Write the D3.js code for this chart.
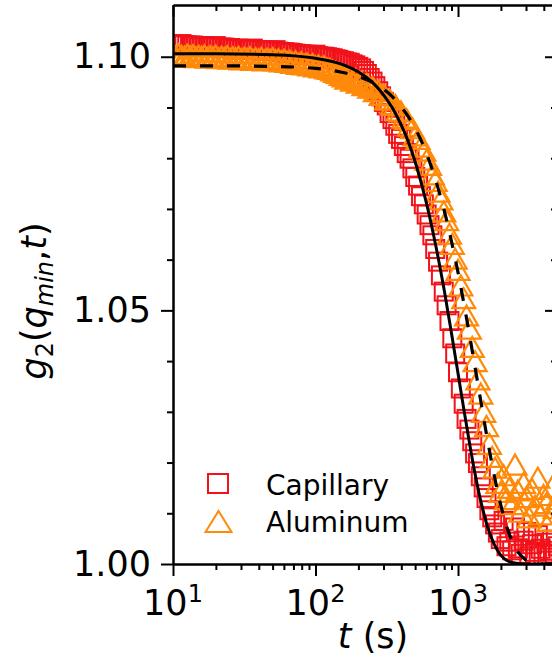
<!DOCTYPE html>
<html>
<head>
<meta charset="utf-8">
<script src="https://cdn.jsdelivr.net/npm/d3@7"></script>
<style>
body { margin: 0; background: #fff; }
text { font-family: "DejaVu Sans", Verdana, sans-serif; fill: #000; }
</style>
</head>
<body>
<div id="chart"></div>
<script>
// delay times (s), shared by both samples
var delayTimes = [
  10.00, 10.47, 10.96, 11.48, 12.02, 12.59, 13.18, 13.80, 14.45, 15.14,
  15.85, 16.60, 17.38, 18.20, 19.05, 19.95, 20.89, 21.88, 22.91, 23.99,
  25.12, 26.30, 27.54, 28.84, 30.20, 31.62, 33.11, 34.67, 36.31, 38.02,
  39.81, 41.69, 43.65, 45.71, 47.86, 50.12, 52.48, 54.95, 57.54, 60.26,
  63.10, 66.07, 69.18, 72.44, 75.86, 79.43, 83.18, 87.10, 91.20, 95.50,
  100.0, 104.7, 109.6, 114.8, 120.2, 125.9, 131.8, 138.0, 144.5, 151.4,
  158.5, 166.0, 173.8, 182.0, 190.5, 199.5, 208.9, 218.8, 229.1, 239.9,
  251.2, 263.0, 275.4, 288.4, 302.0, 316.2, 331.1, 346.7, 363.1, 380.2,
  398.1, 416.9, 436.5, 457.1, 478.6, 501.2, 524.8, 549.5, 575.4, 602.6,
  631.0, 660.7, 691.8, 724.4, 758.6, 794.3, 831.8, 871.0, 912.0, 955.0,
  1000, 1047, 1096, 1148, 1202, 1259, 1318, 1380, 1445, 1514,
  1585, 1660, 1738, 1820, 1905, 1995, 2089, 2188, 2291, 2399,
  2512, 2630, 2754, 2884, 3020, 3162, 3311, 3467, 3631, 3802,
  3981, 4169, 4365, 4571, 4786, 5012
];

// g2 for the capillary sample
var capillary = [
  1.1024, 1.1024, 1.1023, 1.1025, 1.1023, 1.1022, 1.1022, 1.1022, 1.1021, 1.1019,
  1.1021, 1.1020, 1.1020, 1.1020, 1.1019, 1.1021, 1.1018, 1.1018, 1.1018, 1.1017,
  1.1017, 1.1016, 1.1014, 1.1016, 1.1015, 1.1015, 1.1014, 1.1014, 1.1016, 1.1013,
  1.1013, 1.1013, 1.1012, 1.1012, 1.1012, 1.1011, 1.1013, 1.1010, 1.1009, 1.1009,
  1.1008, 1.1008, 1.1007, 1.1006, 1.1004, 1.1005, 1.1004, 1.1004, 1.1003, 1.1002,
  1.1004, 1.1001, 1.1000, 1.1000, 1.0999, 1.0998, 1.0997, 1.0995, 1.0994, 1.0992,
  1.0991, 1.0989, 1.0988, 1.0985, 1.0983, 1.0980, 1.0977, 1.0972, 1.0966, 1.0958,
  1.0951, 1.0942, 1.0932, 1.0922, 1.0911, 1.0904, 1.0889, 1.0877, 1.0864, 1.0848,
  1.0838, 1.0824, 1.0810, 1.0799, 1.0780, 1.0763, 1.0746, 1.0725, 1.0709, 1.0689,
  1.0668, 1.0648, 1.0621, 1.0596, 1.0569, 1.0537, 1.0510, 1.0479, 1.0445, 1.0415,
  1.0378, 1.0346, 1.0316, 1.0286, 1.0265, 1.0242, 1.0218, 1.0199, 1.0173, 1.0151,
  1.0130, 1.0106, 1.0092, 1.0078, 1.0062, 1.0049, 1.0085, 1.0035, 1.0044, 1.0027,
  1.0072, 1.0031, 1.0020, 1.0046, 1.0063, 1.0015, 1.0039, 1.0024, 1.0057, 1.0030,
  1.0018, 1.0042, 1.0026, 1.0048, 1.0021, 1.0035
];

// g2 for the aluminum sample
var aluminum = [
  1.1004, 1.1001, 1.1005, 1.1002, 1.1000, 1.1004, 1.1001, 1.1003, 1.0999, 1.1002,
  1.1000, 1.1003, 1.0998, 1.1001, 1.0999, 1.1002, 1.0997, 1.1000, 1.0998, 1.1001,
  1.0996, 1.0999, 1.0997, 1.1000, 1.0995, 1.0998, 1.0996, 1.0999, 1.0994, 1.0997,
  1.0995, 1.0998, 1.0993, 1.0996, 1.0994, 1.0997, 1.0993, 1.0995, 1.0991, 1.0994,
  1.0990, 1.0992, 1.0988, 1.0991, 1.0986, 1.0989, 1.0985, 1.0987, 1.0983, 1.0986,
  1.0981, 1.0983, 1.0979, 1.0981, 1.0977, 1.0976, 1.0973, 1.0970, 1.0968, 1.0964,
  1.0961, 1.0957, 1.0959, 1.0953, 1.0956, 1.0949, 1.0951, 1.0944, 1.0946, 1.0939,
  1.0940, 1.0932, 1.0933, 1.0925, 1.0925, 1.0916, 1.0916, 1.0906, 1.0905, 1.0894,
  1.0892, 1.0880, 1.0877, 1.0864, 1.0859, 1.0845, 1.0838, 1.0823, 1.0815, 1.0797,
  1.0787, 1.0768, 1.0755, 1.0734, 1.0719, 1.0695, 1.0678, 1.0651, 1.0631, 1.0602,
  1.0580, 1.0549, 1.0524, 1.0490, 1.0464, 1.0428, 1.0400, 1.0364, 1.0336, 1.0300,
  1.0272, 1.0237, 1.0211, 1.0190, 1.0160, 1.0142, 1.0175, 1.0128, 1.0150, 1.0118,
  1.0196, 1.0145, 1.0103, 1.0160, 1.0132, 1.0092, 1.0148, 1.0115, 1.0170, 1.0098,
  1.0136, 1.0120, 1.0085, 1.0152, 1.0110, 1.0128
];

// fitted curves
var fitTimes = [10, 20, 50, 100, 150, 200, 250, 300, 350, 400, 450, 500, 600, 700, 800, 900,
  1000, 1100, 1200, 1300, 1400, 1500, 1600, 1800, 2000, 2200, 2400, 2600, 2800, 3000, 4000, 5000];
var capillaryFit = [1.1006, 1.1006, 1.1004, 1.0997, 1.0986, 1.0970, 1.0950, 1.0925, 1.0897, 1.0865,
  1.0831, 1.0793, 1.0712, 1.0626, 1.0540, 1.0455, 1.0376, 1.0304, 1.0241, 1.0186, 1.0141, 1.0105,
  1.0076, 1.0038, 1.0017, 1.0007, 1.0003, 1.0001, 1.0000, 1.0000, 1.0000, 1.0000];
var aluminumFit = [1.0982, 1.0982, 1.0981, 1.0977, 1.0970, 1.0961, 1.0950, 1.0936, 1.0920, 1.0901,
  1.0881, 1.0859, 1.0810, 1.0755, 1.0697, 1.0636, 1.0575, 1.0513, 1.0454, 1.0397, 1.0344, 1.0294,
  1.0249, 1.0173, 1.0115, 1.0073, 1.0045, 1.0026, 1.0015, 1.0008, 1.0000, 1.0000];

var xTicks = [10, 100, 1000];
var xMinorTicks = [20, 30, 40, 50, 60, 70, 80, 90, 200, 300, 400, 500, 600, 700, 800, 900, 2000, 3000, 4000];
var yTicks = [1.00, 1.05, 1.10];
var yMinorTicks = [1.01, 1.02, 1.03, 1.04, 1.06, 1.07, 1.08, 1.09];
var legendLabels = ["Capillary", "Aluminum"];

var red = "#f2121a", orange = "#ff8a0a";
var plot = {left: 173, right: 557, top: 5, bottom: 564};

var svg = d3.select("#chart").append("svg")
    .attr("width", 552)
    .attr("height", 663);

var x = d3.scaleLog().domain([10, 4950]).range([plot.left, plot.right]);
var y = d3.scaleLinear().domain([1.0, 1.1102]).range([plot.bottom, plot.top]);

svg.append("clipPath").attr("id", "clip")
  .append("rect")
    .attr("x", plot.left).attr("y", plot.top)
    .attr("width", plot.right - plot.left).attr("height", plot.bottom - plot.top);

var marks = svg.append("g").attr("clip-path", "url(#clip)");

// capillary squares
marks.selectAll(".sq")
  .data(capillary)
  .enter().append("rect")
    .attr("class", "sq")
    .attr("x", function(d, i) { return x(delayTimes[i]) - 9; })
    .attr("y", function(d) { return y(d) - 9; })
    .attr("width", 18).attr("height", 18)
    .attr("fill", "none")
    .attr("stroke", red)
    .attr("stroke-width", 2);

// aluminum triangles
marks.selectAll(".tri")
  .data(aluminum)
  .enter().append("path")
    .attr("class", "tri")
    .attr("d", "M-11.5,10L0,-10L11.5,10Z")
    .attr("transform", function(d, i) { return "translate(" + x(delayTimes[i]) + "," + y(d) + ")"; })
    .attr("fill", "none")
    .attr("stroke", orange)
    .attr("stroke-width", 2.2);

var line = d3.line()
    .x(function(d, i) { return x(fitTimes[i]); })
    .y(function(d) { return y(d); })
    .curve(d3.curveMonotoneX);

marks.append("path")
    .datum(capillaryFit)
    .attr("fill", "none")
    .attr("stroke", "#000")
    .attr("stroke-width", 3)
    .attr("d", line);

marks.append("path")
    .datum(aluminumFit)
    .attr("fill", "none")
    .attr("stroke", "#000")
    .attr("stroke-width", 3.2)
    .attr("stroke-dasharray", "13,14")
    .attr("d", line);

// axes: left/bottom ticks outward, top/right ticks inward
function styleAxis(g) {
  g.selectAll("path, line").attr("stroke", "#000").attr("stroke-width", 2);
}

svg.append("g").attr("transform", "translate(0," + plot.bottom + ")")
  .call(d3.axisBottom(x).tickValues(xTicks).tickSize(12).tickSizeOuter(0).tickFormat(""))
  .call(styleAxis);
svg.append("g").attr("transform", "translate(0," + plot.bottom + ")")
  .call(d3.axisBottom(x).tickValues(xMinorTicks).tickSize(6).tickSizeOuter(0).tickFormat(""))
  .call(styleAxis);
svg.append("g").attr("transform", "translate(0," + plot.top + ")")
  .call(d3.axisBottom(x).tickValues(xTicks).tickSize(12).tickSizeOuter(0).tickFormat(""))
  .call(styleAxis);
svg.append("g").attr("transform", "translate(0," + plot.top + ")")
  .call(d3.axisBottom(x).tickValues(xMinorTicks).tickSize(6).tickSizeOuter(0).tickFormat(""))
  .call(styleAxis);

var yAxis = svg.append("g").attr("transform", "translate(" + plot.left + ",0)")
  .call(d3.axisLeft(y).tickValues(yTicks).tickSize(12).tickSizeOuter(0).tickPadding(10).tickFormat(d3.format(".2f")))
  .call(styleAxis);
yAxis.selectAll("text").style("font-size", "35px").attr("font-family", "DejaVu Sans");
svg.append("g").attr("transform", "translate(" + plot.left + ",0)")
  .call(d3.axisLeft(y).tickValues(yMinorTicks).tickSize(6).tickSizeOuter(0).tickFormat(""))
  .call(styleAxis);
svg.append("g").attr("transform", "translate(" + plot.right + ",0)")
  .call(d3.axisLeft(y).tickValues(yTicks).tickSize(12).tickSizeOuter(0).tickFormat(""))
  .call(styleAxis);
svg.append("g").attr("transform", "translate(" + plot.right + ",0)")
  .call(d3.axisLeft(y).tickValues(yMinorTicks).tickSize(6).tickSizeOuter(0).tickFormat(""))
  .call(styleAxis);

// x tick labels as powers of ten
var xl = svg.selectAll(".xlab")
  .data(xTicks)
  .enter().append("text")
    .attr("class", "xlab")
    .attr("x", function(d) { return x(d); })
    .attr("y", 615)
    .attr("text-anchor", "middle")
    .style("font-size", "35px");
xl.append("tspan").text("10");
xl.append("tspan").attr("dy", -13).style("font-size", "24px")
    .text(function(d) { return Math.round(Math.log10(d)); });

// axis titles
var xt = svg.append("text").attr("x", 373).attr("y", 648)
    .attr("text-anchor", "middle").style("font-size", "35px");
xt.append("tspan").style("font-style", "italic").text("t");
xt.append("tspan").text(" (s)");

var yt = svg.append("text")
    .attr("transform", "translate(46,301) rotate(-90)")
    .attr("text-anchor", "middle").style("font-size", "35px");
yt.append("tspan").style("font-style", "italic").text("g");
yt.append("tspan").attr("dy", 7).style("font-size", "24px").text("2");
yt.append("tspan").attr("dy", -7).text("(");
yt.append("tspan").style("font-style", "italic").text("q");
yt.append("tspan").attr("dy", 7).style("font-size", "24px").style("font-style", "italic").text("min");
yt.append("tspan").attr("dy", -7).text(",");
yt.append("tspan").style("font-style", "italic").text("t");
yt.append("tspan").text(")");

// legend
svg.append("rect").attr("x", 208).attr("y", 474).attr("width", 20).attr("height", 19)
    .attr("fill", "none").attr("stroke", red).attr("stroke-width", 2);
svg.append("path").attr("d", "M-13,10.5L0,-10.5L13,10.5Z")
    .attr("transform", "translate(218.5,521.5)")
    .attr("fill", "none").attr("stroke", orange).attr("stroke-width", 2);
svg.selectAll(".leg")
  .data(legendLabels)
  .enter().append("text")
    .attr("class", "leg")
    .attr("x", 266)
    .attr("y", function(d, i) { return 495 + i * 37; })
    .style("font-size", "28px")
    .text(function(d) { return d; });
</script>
</body>
</html>
